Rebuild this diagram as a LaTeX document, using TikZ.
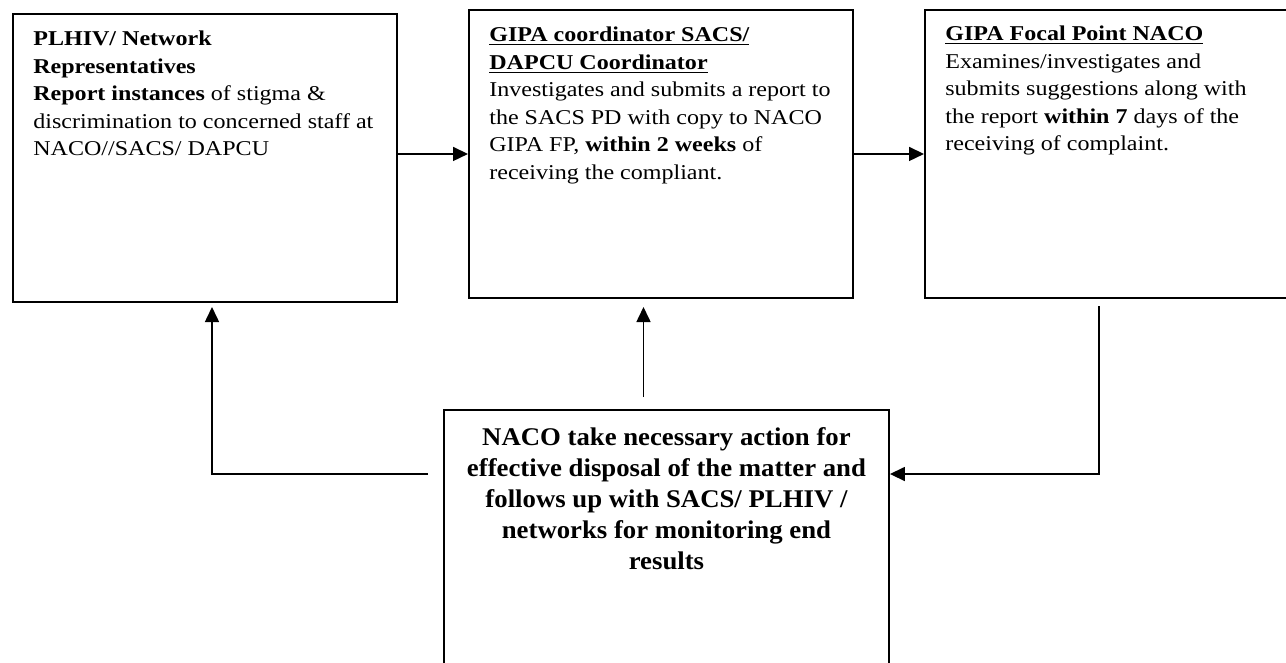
\documentclass[tikz,border=0pt]{standalone}
\usepackage{fontspec}
\setmainfont[FakeStretch=1.14]{Liberation Serif}
\newfontfamily\actionfont[FakeStretch=1.05]{Liberation Serif}
\usetikzlibrary{arrows.meta,calc}

\tikzset{
    flowbox/.style={draw, line width=1.1pt, minimum width=7.68cm, minimum height=5.76cm, anchor=north west, inner sep=0pt},
    boxtext/.style={anchor=north west, align=left, inner sep=0pt, font=\fontsize{12}{15.6}\selectfont},
    flowarrow/.style={line width=0.9pt, -{Triangle[length=0.3cm,width=0.28cm]}}
}

\begin{document}
\begin{tikzpicture}
    \useasboundingbox (0,0) rectangle (25.72,-13.24);
    % boxes
    \node[flowbox] (plhiv) at (0.24,-0.26) {};
    \node[flowbox] (gipa) at (9.36,-0.18) {};
    \node[flowbox] (focal) at (18.48,-0.18) {};
    \node[flowbox, minimum width=8.9cm, minimum height=6cm] (naco) at (8.86,-8.18) {};

    \node[boxtext] (plhivtext) at ([xshift=0.42cm,yshift=-0.36cm]plhiv.north west) {%
        \textbf{PLHIV/ Network}\\
        \textbf{Representatives}\\
        \textbf{Report instances} of stigma \&\\
        discrimination to concerned staff at\\
        NACO//SACS/ DAPCU};
    \node[boxtext] (gipatext) at ([xshift=0.42cm,yshift=-0.36cm]gipa.north west) {%
        \textbf{\underline{GIPA coordinator SACS/}}\\
        \textbf{\underline{DAPCU Coordinator}}\\
        Investigates and submits a report to\\
        the SACS PD with copy to NACO\\
        GIPA FP, \textbf{within 2 weeks} of\\
        receiving the compliant.};
    \node[boxtext] (focaltext) at ([xshift=0.42cm,yshift=-0.34cm]focal.north west) {%
        \textbf{\underline{GIPA Focal Point NACO}}\\
        Examines/investigates and\\
        submits suggestions along with\\
        the report \textbf{within 7} days of the\\
        receiving of complaint.};
    \node[anchor=north, align=center, inner sep=0pt, font=\actionfont\bfseries\fontsize{14.5}{17.6}\selectfont] (nacotext) at ([yshift=-0.36cm]naco.north) {%
        NACO take necessary action for\\
        effective disposal of the matter and\\
        follows up with SACS/ PLHIV /\\
        networks for monitoring end\\
        results};

    % connectors
    \coordinate (upfoot) at (12.87,-7.94);
    \coordinate (uptip) at (12.87,-6.14);
    \coordinate (leftfoot) at (8.56,-9.48);
    \coordinate (lefttip) at (4.24,-6.14);
    \coordinate (rightfoot) at (21.98,-6.12);

    \draw[flowarrow] (gipa.west -| plhiv.east) -- (gipa.west);
    \draw[flowarrow] (gipa.east) -- (gipa.east -| focal.west);
    \draw[flowarrow] (upfoot) -- (uptip);
    \draw[flowarrow] (leftfoot) -| (lefttip);
    \draw[flowarrow] (rightfoot) |- (naco.east |- leftfoot);
\end{tikzpicture}
\end{document}
